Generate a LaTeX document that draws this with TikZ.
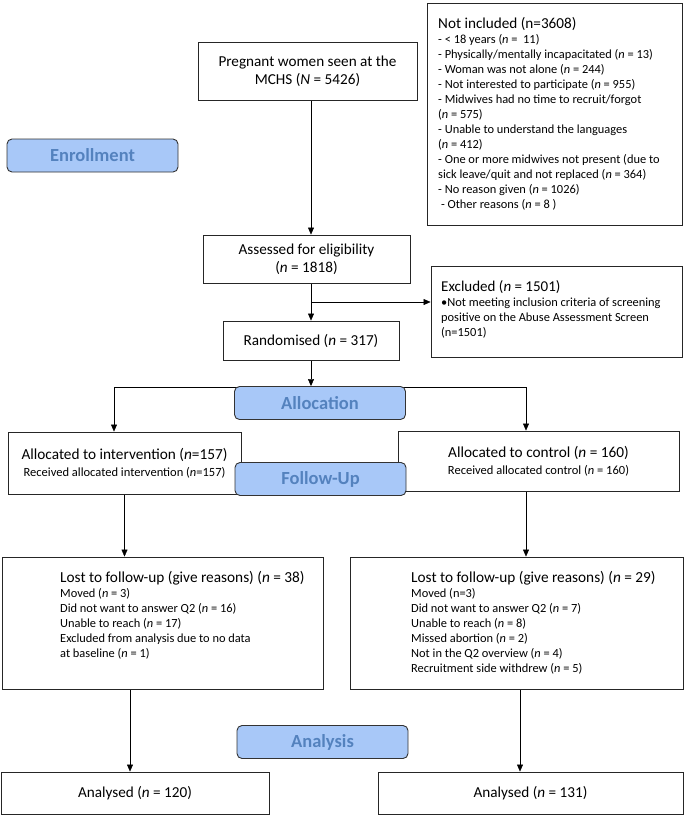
\documentclass[tikz,border=0pt]{standalone}
\usepackage{fontspec}
\setmainfont{Carlito}
\usetikzlibrary{arrows.meta,backgrounds}
\definecolor{phasefill}{RGB}{168,200,248}
\definecolor{phasetext}{RGB}{84,130,190}
\begin{document}
\begin{tikzpicture}[x=1pt, y=-1pt,
	>={Triangle[length=7pt,width=6pt,color=black]},
	box/.style={draw=black!85, line width=0.9pt, fill=white, inner sep=0pt, align=center},
	phase/.style={draw=black!80, line width=0.9pt, rounded corners=5pt, fill=phasefill, text=phasetext, font=\fontsize{18.5}{20}\selectfont\bfseries, minimum width=171pt, minimum height=33pt},
	list/.style={anchor=north west, inner sep=0pt, align=left, font=\fontsize{12.4}{15}\selectfont},
	big/.style={font=\fontsize{15.2}{18.3}\selectfont}]
	\useasboundingbox (0,0) rectangle (685,815);
	\node[box, big, minimum width=219pt, minimum height=58pt] (pregnant) at (307.5,71) {Pregnant women seen at the\\MCHS (\textit{N} = 5426)};
	\node[box, minimum width=255pt, minimum height=222pt] (notincl) at (554.5,114) {};
	\node[list] (notincltxt) at (438,17) {{\fontsize{15.2}{16}\selectfont Not included (n=3608)}\\- < 18 years (\textit{n} =~~11)\\- Physically/mentally incapacitated (\textit{n} = 13)\\- Woman was not alone (\textit{n} = 244)\\- Not interested to participate (\textit{n} = 955)\\- Midwives had no time to recruit/forgot\\(\textit{n} = 575)\\- Unable to understand the languages\\(\textit{n} = 412)\\- One or more midwives not present (due to\\sick leave/quit and not replaced (\textit{n} = 364)\\- No reason given (\textit{n} = 1026)\\~- Other reasons (\textit{n} = 8 )};
	\node[phase] (enroll) at (92.5,155.5) {Enrollment};
	\node[box, big, minimum width=207pt, minimum height=48pt] (assessed) at (306.5,259) {Assessed for eligibility\\(\textit{n} = 1818)};
	\node[box, minimum width=251pt, minimum height=91pt] (excluded) at (556.5,311.5) {};
	\node[list] (excludedtxt) at (441,280) {{\fontsize{15}{16}\selectfont Excluded (\textit{n} = 1501)}\\•Not meeting inclusion criteria of screening\\positive on the Abuse Assessment Screen\\(n=1501)};
	\node[box, big, minimum width=176pt, minimum height=39pt] (randomised) at (311,340.5) {Randomised (\textit{n} = 317)};
	\node[phase] (allocation) at (320,403) {Allocation};
	\node[box, font=\fontsize{15.3}{17}\selectfont, minimum width=233pt, minimum height=62pt] (allocint) at (124.5,463) {Allocated to intervention (\textit{n}=157)\\{\fontsize{12.5}{13}\selectfont Received allocated intervention (\textit{n}=157)}};
	\node[box, font=\fontsize{15.3}{17}\selectfont, minimum width=281pt, minimum height=60pt] (allocctrl) at (538.5,461) {Allocated to control (\textit{n} = 160)\\{\fontsize{12.5}{13}\selectfont Received allocated control (\textit{n} = 160)}};
	\node[phase] (followup) at (320.5,479) {Follow-Up};
	\node[box, minimum width=321pt, minimum height=132pt] (lostint) at (162.5,623) {};
	\node[list] (lostinttxt) at (60,571) {{\fontsize{15.3}{16}\selectfont Lost to follow-up (give reasons) (\textit{n} = 38)}\\Moved (\textit{n} = 3)\\Did not want to answer Q2 (\textit{n} = 16)\\Unable to reach (\textit{n} = 17)\\Excluded from analysis due to no data\\at baseline (\textit{n} = 1)};
	\node[box, minimum width=333pt, minimum height=132pt] (lostctrl) at (516.5,623) {};
	\node[list] (lostctrltxt) at (411,571) {{\fontsize{15.3}{16}\selectfont Lost to follow-up (give reasons) (\textit{n} = 29)}\\Moved (n=3)\\Did not want to answer Q2 (\textit{n} = 7)\\Unable to reach (\textit{n} = 8)\\Missed abortion (\textit{n} = 2)\\Not in the Q2 overview (\textit{n} = 4)\\Recruitment side withdrew (\textit{n} = 5)};
	\node[phase] (analysis) at (322.5,742) {Analysis};
	\node[box, big, minimum width=268pt, minimum height=42pt] (analysedint) at (135,793) {Analysed (\textit{n} = 120)};
	\node[box, big, minimum width=305pt, minimum height=42pt] (analysedctrl) at (530.5,793) {Analysed (\textit{n} = 131)};
	\coordinate (splitE) at (311,302);
	\coordinate (splitL) at (114,387);
	\coordinate (splitR) at (526,387);
	\coordinate (outL) at (130,0);
	\coordinate (outR) at (520,0);
	\begin{scope}[on background layer, black!70, line width=0.8pt]
		\draw[->] (pregnant.south -| randomised) -- (assessed.north -| randomised);
		\draw[->] (assessed.south -| randomised) -- (randomised.north);
		\draw[->] (splitE) -- (splitE -| excluded.west);
		\draw[->] (randomised.south) -- (randomised.south |- allocation.north);
		\draw (splitL) -- (splitR);
		\draw[->] (splitL) -- (splitL |- allocint.north);
		\draw[->] (splitR) -- (splitR |- allocctrl.north);
		\draw[->] (allocint.south) -- (allocint.south |- lostint.north);
		\draw[->] (allocctrl.south -| splitR) -- (splitR |- lostctrl.north);
		\draw[->] (lostint.south -| outL) -- (outL |- analysedint.north);
		\draw[->] (lostctrl.south -| outR) -- (outR |- analysedctrl.north);
	\end{scope}
\end{tikzpicture}
\end{document}
